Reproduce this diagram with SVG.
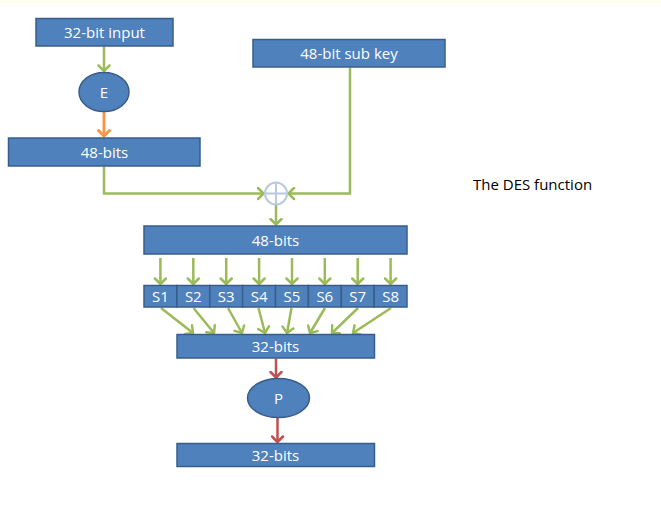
<svg xmlns="http://www.w3.org/2000/svg" width="661" height="519" viewBox="0 0 661 519">
  <style>
    .box { fill: #4F81BD; stroke: #385D8A; stroke-width: 1.5; }
    .lbl { font-family: "Open Sans", "Liberation Sans", sans-serif; font-size: 15px; fill: #FFFFFF; text-anchor: middle; }
    .sl { font-size: 15px; }
    .title { font-family: "Open Sans", "Liberation Sans", sans-serif; font-size: 15px; fill: #000000; }
    .g { fill: none; stroke: #9BBB59; stroke-width: 2.5; marker-end: url(#ag); }
    .o { fill: none; stroke: #F79646; stroke-width: 3; marker-end: url(#ao); }
    .r { fill: none; stroke: #C0504D; stroke-width: 2.5; marker-end: url(#ar); }
    .plain { fill: none; stroke: #9BBB59; stroke-width: 2.5; }
  </style>
  <defs>
    <marker id="ag" markerUnits="userSpaceOnUse" markerWidth="14" markerHeight="14" refX="7" refY="7" orient="auto">
      <path d="M1.5,1.5 L7,7 L1.5,12.5" fill="none" stroke="#9BBB59" stroke-width="2.5" stroke-linecap="round" stroke-linejoin="round"/>
    </marker>
    <marker id="ao" markerUnits="userSpaceOnUse" markerWidth="14" markerHeight="14" refX="7" refY="7" orient="auto">
      <path d="M1.5,1.5 L7,7 L1.5,12.5" fill="none" stroke="#F79646" stroke-width="3" stroke-linecap="round" stroke-linejoin="round"/>
    </marker>
    <marker id="ar" markerUnits="userSpaceOnUse" markerWidth="14" markerHeight="14" refX="7" refY="7" orient="auto">
      <path d="M1.5,1.5 L7,7 L1.5,12.5" fill="none" stroke="#C0504D" stroke-width="2.5" stroke-linecap="round" stroke-linejoin="round"/>
    </marker>
  </defs>

  <rect x="0" y="0" width="661" height="519" fill="#FFFFFF"/>
  <rect x="0" y="0" width="661" height="4" fill="#FFFFF0"/>

  <g id="connectors">
    <path class="g" d="M104,46.5 V71"/>
    <path class="o" d="M104,111.5 V136"/>
    <path class="g" d="M104,166.5 V193.5 H263.5"/>
    <path class="g" d="M350,67.5 V193.5 H288.5"/>
    <path class="g" d="M276,205 V224.5"/>
    <!-- into the S-boxes -->
    <path class="g" d="M160.4,258 V284"/>
    <path class="g" d="M193.3,258 V284"/>
    <path class="g" d="M226.2,258 V284"/>
    <path class="g" d="M259.1,258 V284"/>
    <path class="g" d="M292,258 V284"/>
    <path class="g" d="M324.8,258 V284"/>
    <path class="g" d="M357.7,258 V284"/>
    <path class="g" d="M390.6,258 V284"/>
    <!-- S-box outputs into 32 bits -->
    <path class="g" d="M161,308 L193,333"/>
    <path class="g" d="M193.5,308 L214,333"/>
    <path class="g" d="M228,308 L242,333"/>
    <path class="g" d="M258.5,308 L265,333"/>
    <path class="g" d="M291.5,308 L287,333"/>
    <path class="g" d="M325,308 L310,333"/>
    <path class="g" d="M358,308 L332,333"/>
    <path class="g" d="M391,308 L353,333"/>
    <path class="r" d="M276,358.5 V377.5"/>
    <path class="r" d="M277.5,418 V442"/>
  </g>

  <g id="input">
    <rect class="box" x="36" y="18.5" width="137" height="27.5"/>
    <text class="lbl" x="104.5" y="37.5">32-bit input</text>
  </g>

  <g id="expand">
    <ellipse class="box" cx="104" cy="92" rx="25" ry="19.5"/>
    <text class="lbl" x="104" y="97.5">E</text>
  </g>

  <g id="expanded">
    <rect class="box" x="8.5" y="138" width="191.5" height="28"/>
    <text class="lbl" x="104.5" y="157.5">48-bits</text>
  </g>

  <g id="subkey">
    <rect class="box" x="253" y="39.5" width="192" height="27.5"/>
    <text class="lbl" x="349" y="58.5">48-bit sub key</text>
  </g>

  <g id="xor">
    <circle cx="276" cy="193.5" r="11" fill="#FFFFFF" stroke="#B9C9DF" stroke-width="2"/>
    <path d="M265,193.5 H287 M276,182.5 V204.5" stroke="#B9C9DF" stroke-width="2" fill="none"/>
  </g>

  <g id="mixed">
    <rect class="box" x="144" y="226" width="263" height="28"/>
    <text class="lbl" x="275.5" y="245.5">48-bits</text>
  </g>

  <g id="sboxes">
    <rect class="box" x="144" y="285.5" width="32.9" height="21.5"/>
    <rect class="box" x="176.9" y="285.5" width="32.9" height="21.5"/>
    <rect class="box" x="209.8" y="285.5" width="32.9" height="21.5"/>
    <rect class="box" x="242.6" y="285.5" width="32.9" height="21.5"/>
    <rect class="box" x="275.5" y="285.5" width="32.9" height="21.5"/>
    <rect class="box" x="308.4" y="285.5" width="32.9" height="21.5"/>
    <rect class="box" x="341.3" y="285.5" width="32.9" height="21.5"/>
    <rect class="box" x="374.1" y="285.5" width="32.9" height="21.5"/>
    <text class="lbl sl" x="160.4" y="301.5">S1</text>
    <text class="lbl sl" x="193.3" y="301.5">S2</text>
    <text class="lbl sl" x="226.2" y="301.5">S3</text>
    <text class="lbl sl" x="259.1" y="301.5">S4</text>
    <text class="lbl sl" x="292" y="301.5">S5</text>
    <text class="lbl sl" x="324.8" y="301.5">S6</text>
    <text class="lbl sl" x="357.7" y="301.5">S7</text>
    <text class="lbl sl" x="390.6" y="301.5">S8</text>
  </g>

  <g id="substituted">
    <rect class="box" x="177" y="334.5" width="197.5" height="23.5"/>
    <text class="lbl" x="275.5" y="351.5">32-bits</text>
  </g>

  <g id="permute">
    <ellipse class="box" cx="278.5" cy="398" rx="31" ry="19.5"/>
    <text class="lbl" x="278.5" y="403.5">P</text>
  </g>

  <g id="output">
    <rect class="box" x="177" y="443.5" width="197.5" height="23"/>
    <text class="lbl" x="275.5" y="460.5">32-bits</text>
  </g>

  <g id="caption">
    <text class="title" x="473" y="190">The DES function</text>
  </g>
</svg>
